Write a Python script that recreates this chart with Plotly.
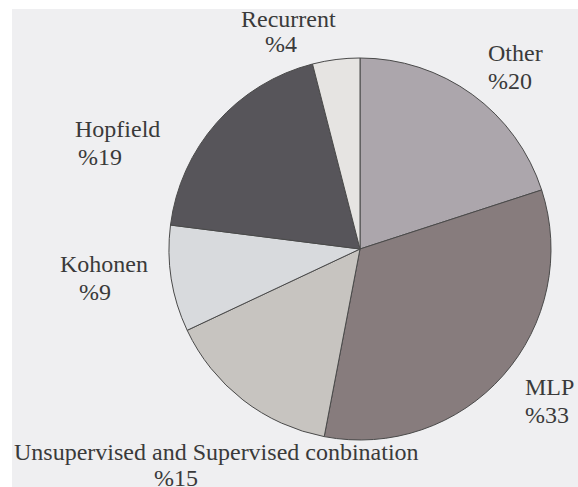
import plotly.graph_objects as go

categories = ["Other", "MLP", "Unsupervised and Supervised conbination", "Kohonen", "Hopfield", "Recurrent"]
values = [20, 33, 15, 9, 19, 4]
pct_labels = ["%20", "%33", "%15", "%9", "%19", "%4"]
colors = ["#aca6ac", "#877c7d", "#c7c4c0", "#d8dadd", "#57555a", "#e6e4e2"]

W, H = 578, 487
FONT = "Liberation Serif, Times New Roman, serif"
FS = 24
TXT = "#3a3a3a"


def px(x):
    return x / W


def py(y):
    return 1 - y / H


fig = go.Figure()
fig.add_trace(go.Pie(
    labels=categories,
    values=values,
    sort=False,
    direction="clockwise",
    rotation=0,
    marker=dict(colors=colors, line=dict(color="#4a4a4a", width=1)),
    textinfo="none",
    hoverinfo="label+value",
    showlegend=False,
    domain=dict(x=[px(169), px(551)], y=[py(440), py(58)]),
))

# label placement (pixel positions in window: left x, line-centre y)
label_pos = {
    "Other": [(486, 53), (486, 81)],
    "MLP": [(523, 387), (523, 415)],
    "Unsupervised and Supervised conbination": [(12, 452), (152, 478)],
    "Kohonen": [(58, 264), (77, 292)],
    "Hopfield": [(73, 129), (76, 157)],
    "Recurrent": [(239, 19), (263, 44)],
}

annotations = []
for cat, pct in zip(categories, pct_labels):
    for txt, (x, y) in zip([cat, pct], label_pos[cat]):
        annotations.append(dict(
            x=px(x), y=py(y), xref="paper", yref="paper",
            xanchor="left", yanchor="middle", showarrow=False,
            text=txt, font=dict(family=FONT, size=FS, color=TXT),
        ))

fig.update_layout(
    width=W, height=H,
    margin=dict(l=0, r=0, t=0, b=0),
    paper_bgcolor="white",
    plot_bgcolor="white",
    annotations=annotations,
    shapes=[dict(type="rect", xref="paper", yref="paper",
                 x0=px(12), x1=1, y0=0, y1=py(9),
                 fillcolor="#efeff1", line=dict(width=0), layer="below")],
)

fig.write_html(
    "out.html",
    config={"displayModeBar": False},
    post_script="document.body.style.margin='0';document.body.style.overflow='hidden';",
)
